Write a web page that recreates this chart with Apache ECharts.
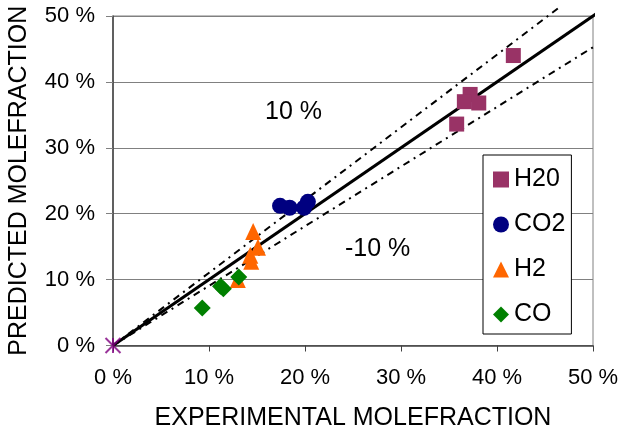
<!DOCTYPE html>
<html>
<head>
<meta charset="utf-8">
<script src="https://cdn.jsdelivr.net/npm/echarts@6/dist/echarts.min.js"></script>
<style>
  html, body { margin: 0; padding: 0; background: #fff; }
  #chart { width: 620px; height: 432px; }
</style>
</head>
<body>
<div id="chart"></div>
<script>
// measured points, [experimental %, predicted %]
const h2o = [[41.7, 44.0], [37.2, 38.1], [36.6, 37.0], [38.1, 36.8], [35.8, 33.6]]
const co2 = [[17.4, 21.2], [18.4, 20.9], [19.9, 20.9], [20.3, 21.8]]
const h2 = [[14.6, 17.3], [15.1, 14.9], [14.3, 13.7], [14.4, 12.8], [13.0, 10.0]]
const co = [[9.3, 5.7], [11.2, 9.0], [11.5, 8.6], [13.1, 10.4]]
const origin = [[0, 0]]

// reference lines: parity and +/-10 %
const parityLine = [[0, 0], [51, 51]]
const upperLine = [[0, 0], [46.4, 51.2]]
const lowerLine = [[0, 0], [50.6, 45.8]]

const FONT = '"Liberation Sans", Arial, sans-serif'
const dashDot = [7, 5, 2, 5]

const chart = echarts.init(document.getElementById('chart'))

chart.setOption({
  animation: false,
  textStyle: { fontFamily: FONT, color: '#000' },
  grid: {
    left: 113, right: 27, top: 16, bottom: 86.5,
    outerBoundsMode: 'none',
    show: true, borderColor: '#808080', borderWidth: 1
  },
  xAxis: {
    type: 'value', min: 0, max: 50, interval: 10,
    name: 'EXPERIMENTAL MOLEFRACTION',
    nameLocation: 'middle', nameGap: 60,
    nameTextStyle: { fontSize: 25, color: '#000', fontFamily: FONT },
    axisLine: { lineStyle: { color: '#404040', width: 1.5 } },
    axisTick: { length: 6, lineStyle: { color: '#404040' } },
    axisLabel: { formatter: '{value} %', fontSize: 22, color: '#000', margin: 21 },
    splitLine: { show: false }
  },
  yAxis: {
    type: 'value', min: 0, max: 50, interval: 10,
    name: 'PREDICTED MOLEFRACTION',
    nameLocation: 'middle', nameGap: 81,
    nameTextStyle: { fontSize: 25, color: '#000', fontFamily: FONT },
    axisLine: { show: true, lineStyle: { color: '#404040', width: 1.5 } },
    axisTick: { show: true, length: 7, lineStyle: { color: '#808080' } },
    axisLabel: { formatter: '{value} %', fontSize: 22, color: '#000', margin: 18 },
    splitLine: { lineStyle: { color: '#808080', width: 1 } }
  },
  legend: {
    orient: 'vertical', left: 483, top: 155,
    padding: [12, 6, 7, 10],
    itemWidth: 16, itemHeight: 16, itemGap: 20,
    backgroundColor: '#fff', borderColor: '#000', borderWidth: 1,
    textStyle: { fontSize: 25, color: '#000', fontFamily: FONT },
    data: [
      { name: 'H20', icon: 'rect' },
      { name: 'CO2', icon: 'circle' },
      { name: 'H2', icon: 'triangle' },
      { name: 'CO', icon: 'diamond' }
    ]
  },
  graphic: [
    { type: 'text', left: 265, top: 100, style: { text: '10 %', fontSize: 25, fill: '#000', fontFamily: FONT } },
    { type: 'text', left: 345, top: 237, style: { text: '-10 %', fontSize: 25, fill: '#000', fontFamily: FONT } }
  ],
  series: [
    {
      type: 'line', data: parityLine, clip: false, symbol: 'none', silent: true,
      lineStyle: { color: '#000', width: 3 }, z: 3
    },
    {
      type: 'line', data: upperLine, clip: false, symbol: 'none', silent: true,
      lineStyle: { color: '#000', width: 2, type: dashDot }, z: 3
    },
    {
      type: 'line', data: lowerLine, clip: false, symbol: 'none', silent: true,
      lineStyle: { color: '#000', width: 2, type: dashDot }, z: 3
    },
    {
      name: 'H20', type: 'scatter', data: h2o, symbol: 'rect', symbolSize: 15,
      itemStyle: { color: '#993366', opacity: 1 }, z: 4
    },
    {
      name: 'CO2', type: 'scatter', data: co2, symbol: 'circle', symbolSize: 16,
      itemStyle: { color: '#000080', opacity: 1 }, z: 4
    },
    {
      name: 'H2', type: 'scatter', data: h2, symbol: 'triangle', symbolSize: [16, 17],
      itemStyle: { color: '#FF6600', opacity: 1 }, z: 4
    },
    {
      name: 'CO', type: 'scatter', data: co, symbol: 'diamond', symbolSize: 17,
      itemStyle: { color: '#008000', opacity: 1 }, z: 5
    },
    {
      type: 'scatter', data: origin, clip: false,
      symbol: 'path://M0,0L10,10M10,0L0,10M5,0L5,10', symbolSize: 15,
      itemStyle: { color: 'none', borderColor: '#800080', borderWidth: 2 }, z: 6
    }
  ]
})
</script>
</body>
</html>
